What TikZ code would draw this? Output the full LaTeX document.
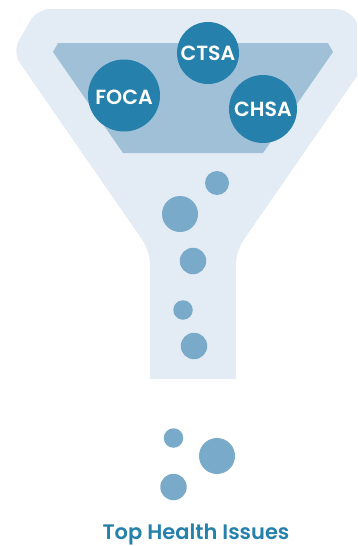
\documentclass[tikz,border=0pt]{standalone}
\usepackage{fontspec}
\setmainfont[BoldFont={Poppins SemiBold}]{Poppins}
\usepackage{tikz}
\definecolor{funnelpale}{HTML}{E3ECF4}
\definecolor{funnelmid}{HTML}{A0C0D8}
\definecolor{bubbledark}{HTML}{2580AC}
\definecolor{bubblelight}{HTML}{7AAACA}
\tikzset{
	bigbubble/.style={circle, fill = bubbledark, text = white, inner sep=0pt, text height=14.5pt, text depth=0pt, font=\bfseries\fontsize{20.5}{22}\selectfont},
	smallbubble/.style={circle, fill = bubblelight, inner sep=0pt}
}
\begin{document}
\begin{tikzpicture}[x=1pt,y=-1pt]
		\clip (0,0) rectangle (357,546);

		\fill[funnelpale] (236,379) -- (150,379) {[rounded corners=13pt] -- (150,251) -- (12.3,52) -- (37,9) -- (349,9) -- (373.7,52) -- (236,251)} -- cycle;

		\fill[funnelmid] (53,52) -- (58,43) -- (328,43) -- (333,52) -- (263,153) -- (123,153) -- cycle;

		\node[bigbubble, minimum size=62pt] (ctsa) at (208,53) {CTSA};
		\node[bigbubble, minimum size=72pt, text height=18.5pt] (foca) at (124,95.5) {FOCA};
		\node[bigbubble, minimum size=68pt] (chsa) at (263,109) {CHSA};

		\node[smallbubble, minimum size=24pt] (drop1) at (217,183) {};
		\node[smallbubble, minimum size=36pt] (drop2) at (180,214) {};
		\node[smallbubble, minimum size=26.5pt] (drop3) at (193,261) {};
		\node[smallbubble, minimum size=19.5pt] (drop4) at (183,310) {};
		\node[smallbubble, minimum size=26.5pt] (drop5) at (194,346) {};

		\node[smallbubble, minimum size=19.5pt] (out1) at (173.5,438) {};
		\node[smallbubble, minimum size=36pt] (out2) at (217,456) {};
		\node[smallbubble, minimum size=26.5pt] (out3) at (173.5,487) {};

		\node[text = bubbledark, inner sep=0pt, font=\bfseries\fontsize{21}{24}\selectfont] (issues) at (196,534.5) {Top Health Issues};
	\end{tikzpicture}
\end{document}
